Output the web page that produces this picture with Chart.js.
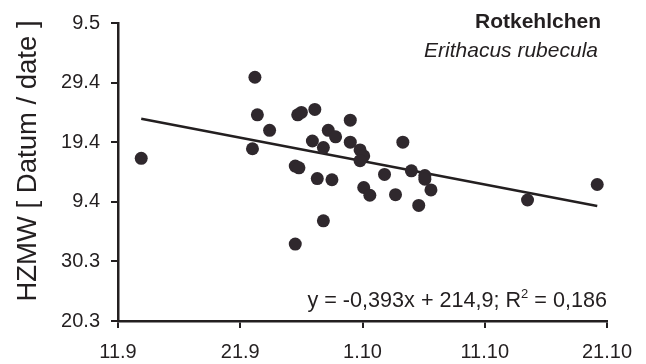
<!DOCTYPE html>
<html>
<head>
<meta charset="utf-8">
<script src="https://cdn.jsdelivr.net/npm/chart.js@4.4.0/dist/chart.umd.min.js"></script>
<style>
html, body { margin: 0; padding: 0; background: #fff; }
#wrap { width: 646px; height: 364px; }
</style>
</head>
<body>
<div id="wrap"><canvas id="myChart" width="646" height="364"></canvas></div>
<script>
// day numbers (leap-year count): x = autumn date, y = spring date (HZMW)
var autumnDays = [256.9, 266.0, 266.2, 266.4, 267.4, 269.5, 269.5, 269.8, 269.7, 270.0,
                  271.1, 270.9, 271.3, 271.8, 271.8, 272.2, 272.5, 272.8, 274.0, 274.0,
                  274.8, 275.1, 274.8, 275.1, 275.6, 276.8, 277.7, 278.3, 279.0, 280.1,
                  280.1, 279.6, 280.6, 288.5, 294.2];
var springDays = [107.3, 108.9, 120.9, 114.6, 112.0, 92.9, 106.0, 105.7, 114.6, 115.0,
                  115.5, 110.2, 103.9, 109.1, 96.8, 112.0, 103.7, 110.9, 113.7, 110.0,
                  108.7, 107.7, 106.9, 102.4, 101.1, 104.6, 101.2, 110.0, 105.2, 104.4,
                  103.8, 99.4, 102.0, 100.3, 102.9];

var xTickDays = [255, 265, 275, 285, 295];
var xTickLabels = ['11.9', '21.9', '1.10', '11.10', '21.10'];
var yTickDays = [80, 90, 100, 110, 120, 130];
var yTickLabels = ['20.3', '30.3', '9.4', '19.4', '29.4', '9.5'];

var slope = -0.393;
var intercept = 214.9;

var ink = '#231f20';
var dot = '#2f282d';
var fontFam = '"Liberation Sans", Arial, Helvetica, sans-serif';

var points = autumnDays.map(function (d, i) { return { x: d, y: springDays[i] }; });
var xMin = Math.min.apply(null, autumnDays);
var xMax = Math.max.apply(null, autumnDays);
var trend = [
    { x: xMin, y: slope * xMin + intercept },
    { x: xMax, y: slope * xMax + intercept }
];

var textPlugin = {
    id: 'texts',
    afterDraw: function (chart) {
        var c = chart.ctx;
        var area = chart.chartArea;
        c.save();
        c.fillStyle = ink;
        c.textAlign = 'right';
        c.textBaseline = 'alphabetic';
        c.font = 'bold 21px ' + fontFam;
        c.fillText('Rotkehlchen', area.right - 6, 28);
        c.font = 'italic 21px ' + fontFam;
        c.fillText('Erithacus rubecula', area.right - 9, 57);

        // regression equation with superscript
        var base = 307;
        var big = '21.6px ' + fontFam;
        var small = '13px ' + fontFam;
        var p1 = 'y = -0,393x + 214,9; R';
        var p2 = '2';
        var p3 = ' = 0,186';
        c.font = big;
        var w1 = c.measureText(p1).width;
        var w3 = c.measureText(p3).width;
        c.font = small;
        var w2 = c.measureText(p2).width;
        var x0 = area.right - (w1 + w2 + w3);
        c.textAlign = 'left';
        c.font = big;
        c.fillText(p1, x0, base);
        c.font = small;
        c.fillText(p2, x0 + w1, base - 9);
        c.font = big;
        c.fillText(p3, x0 + w1 + w2, base);

        // y axis title
        c.translate(28, 161);
        c.rotate(-Math.PI / 2);
        c.textAlign = 'center';
        c.textBaseline = 'middle';
        c.font = '27.5px ' + fontFam;
        c.fillText('HZMW [ Datum / date ]', 0, 0);
        c.restore();
    }
};

var ctx = document.getElementById('myChart').getContext('2d');
var myChart = new Chart(ctx, {
    type: 'scatter',
    data: {
        datasets: [{
            label: 'Rotkehlchen',
            data: points,
            backgroundColor: dot,
            borderWidth: 0,
            pointRadius: 6.5,
            pointHoverRadius: 6.5
        }, {
            type: 'line',
            label: 'Trend',
            data: trend,
            borderColor: ink,
            borderWidth: 2.5,
            pointRadius: 0,
            fill: false
        }]
    },
    options: {
        responsive: false,
        animation: false,
        layout: { padding: { top: 20, right: 39, left: 0, bottom: 0 } },
        plugins: {
            legend: { display: false },
            tooltip: { enabled: false }
        },
        scales: {
            x: {
                type: 'linear',
                min: 255,
                max: 295,
                afterFit: function (scale) { scale.height = 43; },
                border: { display: true, color: ink, width: 2.5 },
                grid: { drawOnChartArea: false, drawTicks: true, tickLength: 7, color: ink, lineWidth: 2 },
                ticks: {
                    stepSize: 10,
                    padding: 12,
                    maxRotation: 0,
                    color: ink,
                    font: { family: fontFam, size: 20 },
                    callback: function (v) {
                        var i = xTickDays.indexOf(v);
                        return i >= 0 ? xTickLabels[i] : '';
                    }
                }
            },
            y: {
                type: 'linear',
                min: 80,
                max: 130,
                afterFit: function (scale) { scale.width = 118; },
                border: { display: true, color: ink, width: 2.5 },
                grid: { drawOnChartArea: false, drawTicks: true, tickLength: 7, color: ink, lineWidth: 2 },
                ticks: {
                    stepSize: 10,
                    padding: 11,
                    color: ink,
                    font: { family: fontFam, size: 20 },
                    callback: function (v) {
                        var i = yTickDays.indexOf(v);
                        return i >= 0 ? yTickLabels[i] : '';
                    }
                }
            }
        }
    },
    plugins: [textPlugin]
});
</script>
</body>
</html>
